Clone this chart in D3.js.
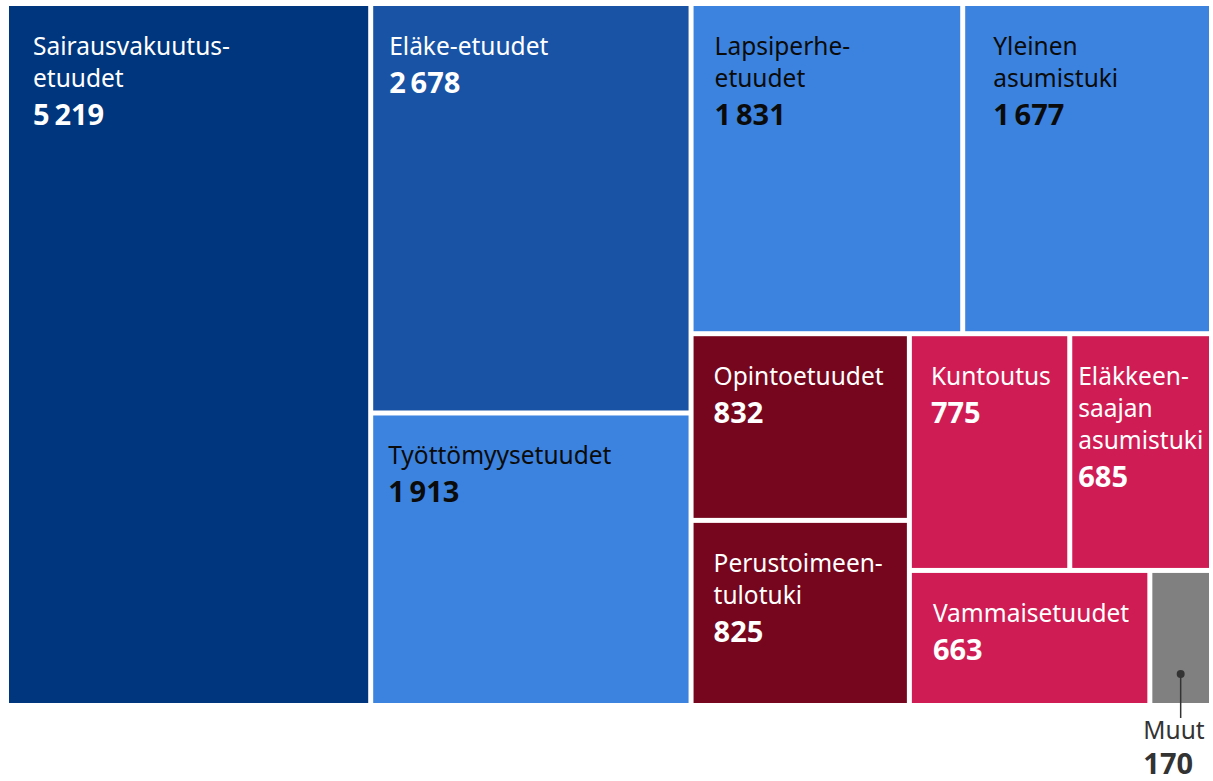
<!DOCTYPE html>
<html>
<head>
<meta charset="utf-8">
<script src="https://cdn.jsdelivr.net/npm/d3@7"></script>
<style>
  html, body { margin: 0; padding: 0; background: #ffffff; }
  svg { display: block; }
  text { font-family: "Noto Sans", "Open Sans", sans-serif; }
</style>
</head>
<body>
<svg id="chart" width="1213" height="781"></svg>
<script>
// ---- Data ----
const categories = [
  "Sairausvakuutusetuudet", "Eläke-etuudet", "Työttömyysetuudet",
  "Lapsiperhe-etuudet", "Yleinen asumistuki",
  "Opintoetuudet", "Perustoimeentulotuki",
  "Kuntoutus", "Eläkkeensaajan asumistuki",
  "Vammaisetuudet", "Muut"
];
const values = [5219, 2678, 1913, 1831, 1677, 832, 825, 775, 685, 663, 170];
const labelLines = [
  ["Sairausvakuutus-", "etuudet"], ["Eläke-etuudet"], ["Työttömyysetuudet"],
  ["Lapsiperhe-", "etuudet"], ["Yleinen", "asumistuki"],
  ["Opintoetuudet"], ["Perustoimeen-", "tulotuki"],
  ["Kuntoutus"], ["Eläkkeen-", "saajan", "asumistuki"],
  ["Vammaisetuudet"], ["Muut"]
];
// grouping of category indices (nested slice/dice)
const nesting = [0, [1, 2], [[3, 4], [[5, 6], [[7, 8], [9, 10]]]]];

// ---- Styles ----
const colorGroup = ["navy", "mid", "light", "light", "light", "wine", "wine", "pink", "pink", "pink", "grey"];
const fills = { navy: "#00367d", mid: "#1953a6", light: "#3c83df", wine: "#75061d", pink: "#cf1c54", grey: "#808080" };
const textColors = { navy: "#ffffff", mid: "#ffffff", light: "#0b0b0b", wine: "#ffffff", pink: "#ffffff", grey: "#333333" };
const labelInsetX = [24, 16, 15, 21, 28, 20, 20, 19, 6, 21, 0];

// ---- Layout ----
const svg = d3.select("#chart");
const X0 = 9, Y0 = 6, W = 1200, H = 697;

function build(n) {
  if (Array.isArray(n)) return { children: n.map(build) };
  return { idx: n, name: categories[n], value: values[n] };
}
const root = d3.hierarchy(build(nesting)).sum(d => d.value || 0);

d3.treemap()
  .tile(d3.treemapSliceDice)
  .size([W, H])
  .paddingInner(5)
  .paddingOuter(0)(root);

const fmt = d3.formatLocale({ decimal: ",", thousands: "\u2009", grouping: [3], currency: ["", "€"] }).format(",d");

const g = svg.append("g").attr("transform", `translate(${X0},${Y0})`);
const leaves = root.leaves();

const cell = g.selectAll("g.cell").data(leaves).join("g").attr("class", "cell");

cell.append("rect")
  .attr("x", d => d.x0).attr("y", d => d.y0)
  .attr("width", d => d.x1 - d.x0).attr("height", d => d.y1 - d.y0)
  .attr("fill", d => fills[colorGroup[d.data.idx]]);

const NAME_SIZE = 24.5, NUM_SIZE = 29, LINE = 32;

cell.filter(d => d.data.name !== "Muut").each(function (d) {
  const i = d.data.idx;
  const sel = d3.select(this);
  const tx = d.x0 + labelInsetX[i];
  const firstBase = d.y0 + 49;
  const col = textColors[colorGroup[i]];
  labelLines[i].forEach((line, k) => {
    sel.append("text")
      .attr("x", tx).attr("y", firstBase + k * LINE)
      .attr("fill", col)
      .attr("font-size", NAME_SIZE)
      .attr("font-weight", 400)
      .text(line);
  });
  sel.append("text")
    .attr("x", tx).attr("y", firstBase + (labelLines[i].length - 1) * LINE + 38)
    .attr("fill", col)
    .attr("font-size", NUM_SIZE)
    .attr("font-weight", 700)
    .text(fmt(values[i]));
});

// "Muut" label outside with leader line
const muut = leaves.find(d => d.data.name === "Muut");
{
  const i = muut.data.idx;
  const cx = (muut.x0 + muut.x1) / 2;
  const col = textColors[colorGroup[i]];
  g.append("line")
    .attr("x1", cx).attr("x2", cx)
    .attr("y1", muut.y1 - 29).attr("y2", muut.y1 + 15)
    .attr("stroke", col).attr("stroke-width", 1.5);
  g.append("circle").attr("cx", cx).attr("cy", muut.y1 - 29).attr("r", 4).attr("fill", col);
  g.append("text")
    .attr("x", muut.x0 - 9).attr("y", muut.y1 + 36)
    .attr("fill", col).attr("font-size", NAME_SIZE).attr("font-weight", 400)
    .text(labelLines[i][0]);
  g.append("text")
    .attr("x", muut.x0 - 9).attr("y", muut.y1 + 71)
    .attr("fill", col).attr("font-size", NUM_SIZE).attr("font-weight", 700)
    .text(fmt(values[i]));
}
</script>
</body>
</html>
